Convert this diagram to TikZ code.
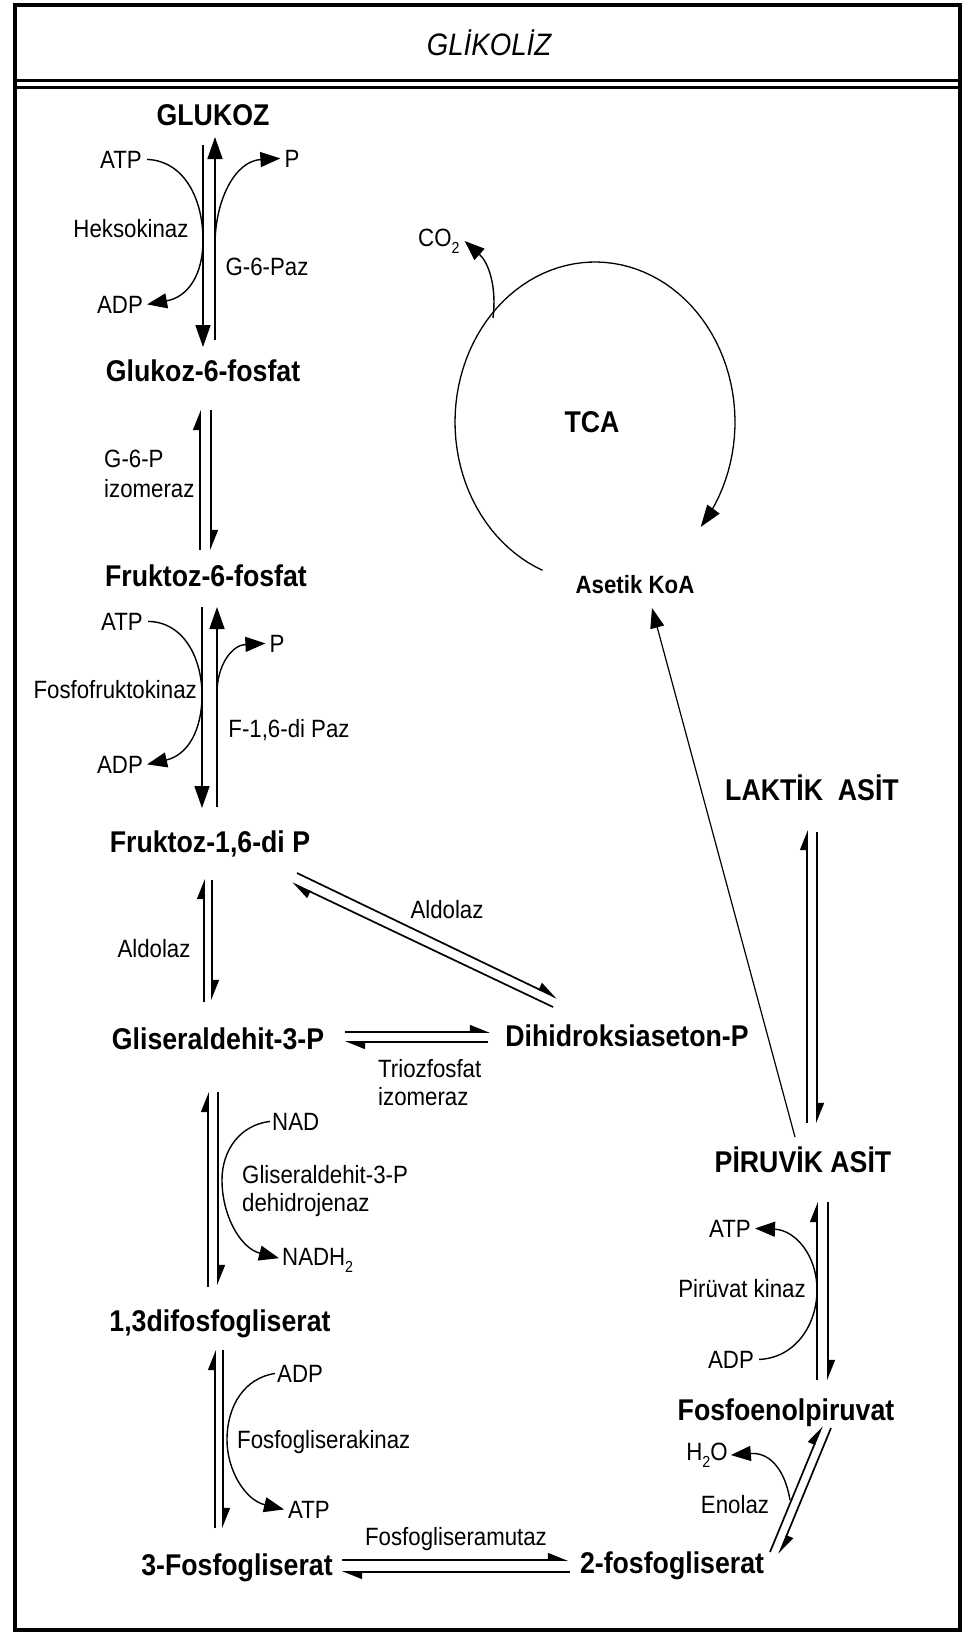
\documentclass[tikz,border=0pt]{standalone}
\usepackage{fontspec}
\setmainfont{Liberation Sans}[FakeStretch=0.89]
\usetikzlibrary{arrows.meta,calc}
\newcommand\lowidx[1]{\raisebox{-0.3em}{\fontsize{16}{16}\selectfont #1}}
\begin{document}
\begin{tikzpicture}[x=1pt,y=-1pt,
  met/.style={font=\fontsize{30}{32}\selectfont\bfseries,inner sep=0pt,anchor=base},
  lbl/.style={font=\fontsize{25}{27}\selectfont,inner sep=0pt,anchor=base},
  rx/.style={line width=1.7pt},
  fullhead/.style={rx,-{Triangle[length=22pt,width=15pt]}},
  halfhead/.style={rx,-{Triangle[left,length=18pt,width=14pt]}},
  bent/.style={line width=1.4pt,-{Triangle[length=20pt,width=15pt]}},
]
\useasboundingbox (0,0) rectangle (973,1633);
% frame and title bar
\draw[line width=3.5pt] (15,5) rectangle (960,1630);
\draw[line width=2.4pt] (15,80.5) -- (960,80.5) (15,87.5) -- (960,87.5);
\node[font=\fontsize{31}{33}\selectfont\itshape,inner sep=0pt,anchor=base] (title) at (489,55) {GLİKOLİZ};

% metabolites
\node[met] (glc)  at (213,125)  {GLUKOZ};
\node[met] (g6p)  at (203,381)  {Glukoz-6-fosfat};
\node[met] (f6p)  at (206,586)  {Fruktoz-6-fosfat};
\node[met] (fbp)  at (210,852)  {Fruktoz-1,6-di P};
\node[met] (gap)  at (218,1049) {Gliseraldehit-3-P};
\node[met] (dhap) at (627,1046) {Dihidroksiaseton-P};
\node[met] (bpg)  at (220,1331) {1,3difosfogliserat};
\node[met] (pgt)  at (237,1575) {3-Fosfogliserat};
\node[met] (pgd)  at (672,1573) {2-fosfogliserat};
\node[met] (pep)  at (786,1420) {Fosfoenolpiruvat};
\node[met] (pyr)  at (803,1172) {PİRUVİK ASİT};
\node[met] (lac)  at (812,800)  {LAKTİK\ \ ASİT};
\node[met] (tca)  at (592,432)  {TCA};
\node[met,font=\fontsize{25}{27}\selectfont\bfseries] (acoa) at (635,593) {Asetik KoA};

% cofactors and enzymes
\node[lbl] (atpa) at (121,168) {ATP};
\node[lbl] (adpa) at (120,313) {ADP};
\node[lbl] (hk)   at (131,237) {Heksokinaz};
\node[lbl] (pa)   at (292,167) {P};
\node[lbl] (gpz)  at (267,275) {G-6-Paz};
\node[lbl,anchor=base west] (giz1) at (104,467) {G-6-P};
\node[lbl,anchor=base west] (giz2) at (104,497) {izomeraz};
\node[lbl] (atpb) at (122,630) {ATP};
\node[lbl] (adpb) at (120,773) {ADP};
\node[lbl,anchor=base east] (pfk) at (197,698) {Fosfofruktokinaz};
\node[lbl] (pb)   at (277,652) {P};
\node[lbl] (fbpz) at (289,737) {F-1,6-di Paz};
\node[lbl] (ald1) at (154,957) {Aldolaz};
\node[lbl] (ald2) at (447,918) {Aldolaz};
\node[lbl,anchor=base west] (tpi1) at (378,1077) {Triozfosfat};
\node[lbl,anchor=base west] (tpi2) at (378,1105) {izomeraz};
\node[lbl,anchor=base west] (nad)  at (272,1130) {NAD};
\node[lbl,anchor=base west] (gd1)  at (242,1183) {Gliseraldehit-3-P};
\node[lbl,anchor=base west] (gd2)  at (242,1211) {dehidrojenaz};
\node[lbl,anchor=base west] (nadh) at (282,1265) {NADH\lowidx{2}};
\node[lbl,anchor=base west] (adpc) at (277,1382) {ADP};
\node[lbl,anchor=base west] (pgk)  at (237,1448) {Fosfogliserakinaz};
\node[lbl,anchor=base west] (atpc) at (288,1518) {ATP};
\node[lbl] (pgm)  at (456,1545) {Fosfogliseramutaz};
\node[lbl] (atpd) at (730,1237) {ATP};
\node[lbl] (pk)   at (742,1297) {Pirüvat kinaz};
\node[lbl] (adpd) at (731,1368) {ADP};
\node[lbl] (h2o)  at (707,1460) {H\lowidx{2}O};
\node[lbl] (eno)  at (735,1513) {Enolaz};
\node[lbl,anchor=base west] (co2) at (418,246) {CO\lowidx{2}};

% arrow end points
\coordinate (a1) at (203,145);  \coordinate (a2) at (203,347);
\coordinate (b1) at (215,340);  \coordinate (b2) at (215,137);
\coordinate (c1) at (200,550);  \coordinate (c2) at (200,410);
\coordinate (d1) at (211,410);  \coordinate (d2) at (211,550);
\coordinate (e1) at (202,607);  \coordinate (e2) at (202,808);
\coordinate (f1) at (217,807);  \coordinate (f2) at (217,607);
\coordinate (g1) at (204,1002); \coordinate (g2) at (204,879);
\coordinate (h1) at (212,880);  \coordinate (h2) at (212,1000);
\coordinate (i1) at (297,873);  \coordinate (i2) at (557,998);
\coordinate (j1) at (553,1007); \coordinate (j2) at (292,883);
\coordinate (k1) at (345,1032); \coordinate (k2) at (490,1032);
\coordinate (l1) at (488,1042); \coordinate (l2) at (345,1042);
\coordinate (m1) at (208,1287); \coordinate (m2) at (208,1092);
\coordinate (n1) at (218,1092); \coordinate (n2) at (218,1285);
\coordinate (o1) at (215,1528); \coordinate (o2) at (215,1350);
\coordinate (q1) at (223,1350); \coordinate (q2) at (223,1528);
\coordinate (r1) at (342,1560); \coordinate (r2) at (568,1560);
\coordinate (s1) at (570,1572); \coordinate (s2) at (342,1572);
\coordinate (t1) at (770,1552); \coordinate (t2) at (822,1426);
\coordinate (u1) at (831,1428); \coordinate (u2) at (779,1554);
\coordinate (v1) at (817,1380); \coordinate (v2) at (817,1202);
\coordinate (w1) at (828,1202); \coordinate (w2) at (828,1380);
\coordinate (x1) at (807,1123); \coordinate (x2) at (807,830);
\coordinate (y1) at (817,832);  \coordinate (y2) at (817,1123);
\coordinate (z1) at (795,1137); \coordinate (z2) at (652,608);

% glucose <-> glucose-6-phosphate
\draw[fullhead] (a1) -- (a2);
\draw[fullhead] (b1) -- (b2);
\draw[bent] ($(atpa.east)+(5,0)$) .. controls (185,161) and (203,200) .. (203,240)
  .. controls (203,275) and (188,297) .. ($(adpa.east)+(4,0)$);
\draw[bent] (215,245) .. controls (215,200) and (235,161) .. ($(pa.west)+(-4,0)$);
% glucose-6-phosphate <-> fructose-6-phosphate
\draw[halfhead] (c1) -- (c2);
\draw[halfhead] (d1) -- (d2);
% fructose-6-phosphate <-> fructose-1,6-bisphosphate
\draw[fullhead] (e1) -- (e2);
\draw[fullhead] (f1) -- (f2);
\draw[bent] ($(atpb.east)+(5,0)$) .. controls (185,622) and (202,660) .. (202,695)
  .. controls (202,730) and (188,755) .. ($(adpb.east)+(4,0)$);
\draw[bent] (217,693) .. controls (217,665) and (232,645) .. ($(pb.west)+(-4,0)$);
% aldolase
\draw[halfhead] (g1) -- (g2);
\draw[halfhead] (h1) -- (h2);
\draw[halfhead] (i1) -- (i2);
\draw[halfhead] (j1) -- (j2);
% triose phosphate isomerase
\draw[halfhead] (k1) -- (k2);
\draw[halfhead] (l1) -- (l2);
% glyceraldehyde-3-phosphate dehydrogenase
\draw[halfhead] (m1) -- (m2);
\draw[halfhead] (n1) -- (n2);
\draw[bent] ($(nad.west)+(-2,0)$) .. controls (240,1125) and (222,1150) .. (222,1180)
  .. controls (222,1215) and (240,1248) .. ($(nadh.west)+(-3,-2)$);
% phosphoglycerate kinase
\draw[halfhead] (o1) -- (o2);
\draw[halfhead] (q1) -- (q2);
\draw[bent] ($(adpc.west)+(-2,0)$) .. controls (245,1378) and (227,1405) .. (227,1440)
  .. controls (227,1470) and (245,1500) .. ($(atpc.west)+(-4,0)$);
% phosphoglycerate mutase
\draw[halfhead] (r1) -- (r2);
\draw[halfhead] (s1) -- (s2);
% enolase
\draw[halfhead] (t1) -- (t2);
\draw[halfhead] (u1) -- (u2);
\draw[bent] (790,1500) .. controls (785,1470) and (770,1452) .. ($(h2o.east)+(3,0)$);
% pyruvate kinase
\draw[halfhead] (v1) -- (v2);
\draw[halfhead] (w1) -- (w2);
\draw[bent] ($(adpd.east)+(5,0)$) .. controls (795,1358) and (817,1325) .. (817,1290)
  .. controls (817,1255) and (795,1230) .. ($(atpd.east)+(4,0)$);
% lactate dehydrogenase
\draw[halfhead] (x1) -- (x2);
\draw[halfhead] (y1) -- (y2);
% pyruvate to acetyl-CoA
\draw[line width=1.2pt,-{Triangle[length=20pt,width=14pt]}] (z1) -- (z2);

% TCA cycle
\draw[line width=1.3pt,-{Triangle[length=22pt,width=15pt]}]
  plot[domain=112:401,samples=90] ({595+140*cos(\x)},{422+160*sin(\x)});
\draw[bent] (493,318) .. controls (497,285) and (488,262) .. ($(co2.east)+(5,0)$);
\end{tikzpicture}
\end{document}
